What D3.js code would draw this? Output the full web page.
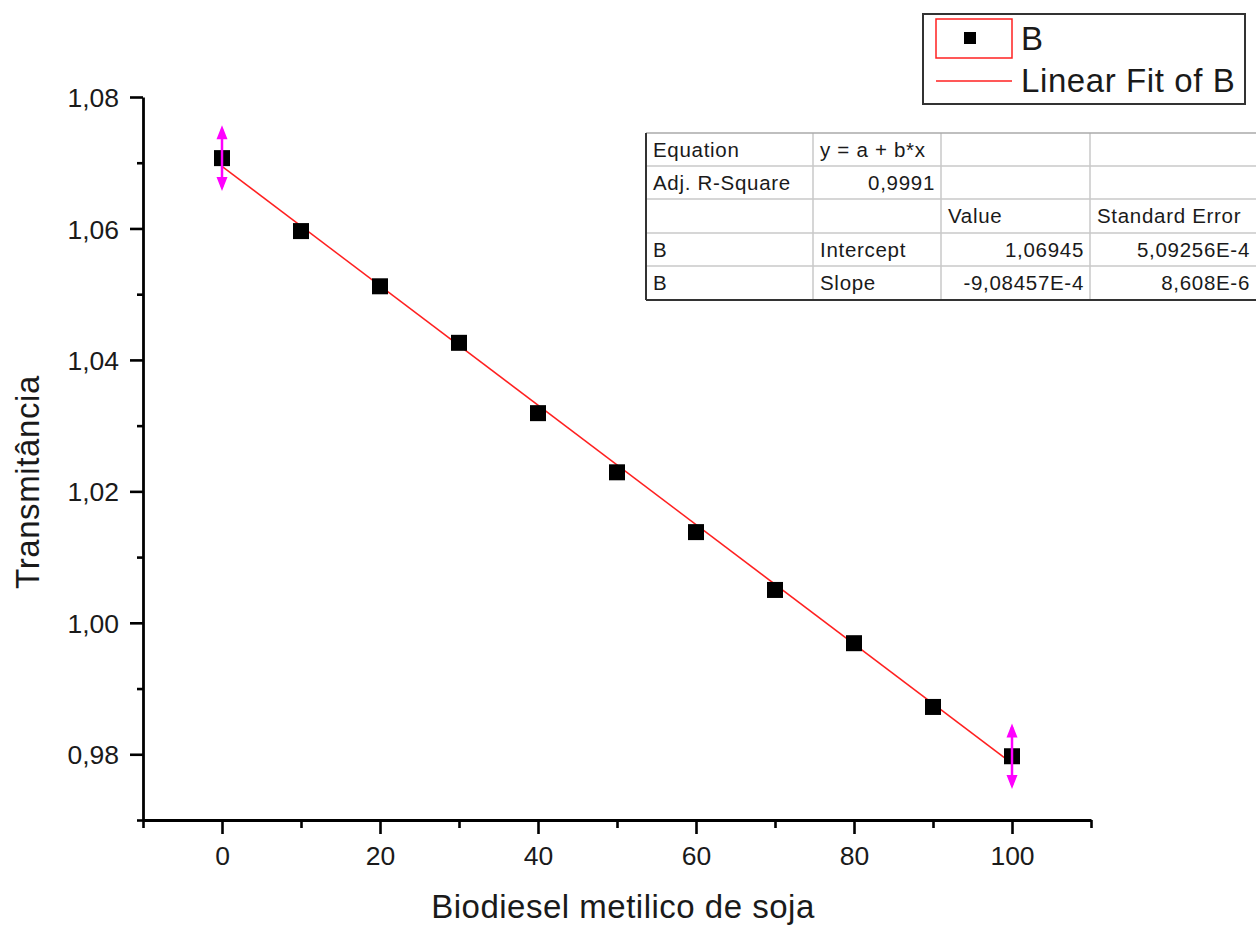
<!DOCTYPE html>
<html>
<head>
<meta charset="utf-8">
<script src="https://cdn.jsdelivr.net/npm/d3@7"></script>
<style>
  body { margin: 0; background: #fff; }
  text { font-family: "Liberation Sans", Arial, sans-serif; }
</style>
</head>
<body>
<div id="chart"></div>
<script>
// data
var xValues = [0, 10, 20, 30, 40, 50, 60, 70, 80, 90, 100];
var yValues = [1.0707, 1.0596, 1.0512, 1.0426, 1.0319, 1.0229, 1.0138, 1.0050, 0.9969, 0.9872, 0.9797];
var yErrors = [0.005, 0, 0, 0, 0, 0, 0, 0, 0, 0, 0.005];

var xMajor = [0, 20, 40, 60, 80, 100];
var xMinor = [-10, 10, 30, 50, 70, 90, 110];
var yMajor = [0.98, 1.00, 1.02, 1.04, 1.06, 1.08];
var yMinor = [0.97, 0.99, 1.01, 1.03, 1.05, 1.07];

var fitIntercept = 1.06945;
var fitSlope = -9.08457e-4;

var tableRows = [
  ["Equation", "y = a + b*x", "", ""],
  ["Adj. R-Square", "0,9991", "", ""],
  ["", "", "Value", "Standard Error"],
  ["B", "Intercept", "1,06945", "5,09256E-4"],
  ["B", "Slope", "-9,08457E-4", "8,608E-6"]
];
var legendLabels = ["B", "Linear Fit of B"];

var W = 1256, H = 927;
var svg = d3.select("#chart").append("svg")
  .attr("width", W).attr("height", H);

var x = d3.scaleLinear().domain([-10, 110]).range([143, 1091]);
var y = d3.scaleLinear().domain([0.97, 1.08]).range([820, 97]);

var ptBR = d3.formatLocale({ decimal: ",", thousands: ".", grouping: [3], currency: ["", ""] });
var fmt2 = ptBR.format(".2f");

// minor ticks
svg.append("g").attr("transform", "translate(0,820)")
  .call(d3.axisBottom(x).tickValues(xMinor).tickSize(8).tickSizeOuter(0).tickFormat(""))
  .call(g => g.select(".domain").remove());
svg.append("g").attr("transform", "translate(143,0)")
  .call(d3.axisLeft(y).tickValues(yMinor).tickSize(6).tickSizeOuter(0).tickFormat(""))
  .call(g => g.select(".domain").remove());

// major axes
var xAxis = svg.append("g").attr("transform", "translate(0,820)")
  .call(d3.axisBottom(x).tickValues(xMajor).tickSize(14).tickSizeOuter(0).tickPadding(12));
var yAxis = svg.append("g").attr("transform", "translate(143,0)")
  .call(d3.axisLeft(y).tickValues(yMajor).tickSize(13).tickSizeOuter(0).tickFormat(fmt2).tickPadding(11));

svg.selectAll(".tick line").attr("stroke", "#000").attr("stroke-width", 2.6);
svg.selectAll(".domain").attr("stroke", "#000").attr("stroke-width", 2.8);
svg.selectAll(".tick text").attr("fill", "#1a1a1a")
  .style("font-family", "'Liberation Sans', Arial, sans-serif").style("font-size", "26.5px");
yAxis.selectAll(".tick text").attr("dy", "0.36em");

// axis titles
svg.append("text").attr("x", 623).attr("y", 918).attr("text-anchor", "middle")
  .style("font-size", "33px").style("letter-spacing", "0.5px").attr("fill", "#1a1a1a")
  .text("Biodiesel metilico de soja");
svg.append("text").attr("transform", "translate(39,482) rotate(-90)").attr("text-anchor", "middle")
  .style("font-size", "33px").style("letter-spacing", "0.6px").attr("fill", "#1a1a1a")
  .text("Transmitância");

// fit line
svg.append("line")
  .attr("x1", x(0)).attr("y1", y(fitIntercept))
  .attr("x2", x(100)).attr("y2", y(fitIntercept + fitSlope * 100))
  .attr("stroke", "#ff2020").attr("stroke-width", 1.5);

// points
var pts = xValues.map(function (d, i) { return { x: d, y: yValues[i], e: yErrors[i] }; });
svg.selectAll("rect.pt").data(pts).enter().append("rect")
  .attr("class", "pt")
  .attr("x", d => x(d.x) - 8).attr("y", d => y(d.y) - 8)
  .attr("width", 16).attr("height", 16).attr("fill", "#000");

// error bars (magenta arrows)
var errPts = pts.filter(d => d.e > 0);
var eb = svg.selectAll("g.err").data(errPts).enter().append("g").attr("class", "err");
eb.append("line")
  .attr("x1", d => x(d.x)).attr("x2", d => x(d.x))
  .attr("y1", d => y(d.y + d.e) + 4).attr("y2", d => y(d.y - d.e) - 4)
  .attr("stroke", "#ff00ff").attr("stroke-width", 2.5);
eb.append("path")
  .attr("d", function (d) {
    var cx = x(d.x), t = y(d.y + d.e), b = y(d.y - d.e);
    return "M" + cx + "," + t + "L" + (cx + 5.5) + "," + (t + 14) + "L" + (cx - 5.5) + "," + (t + 14) + "Z" +
      "M" + cx + "," + b + "L" + (cx + 5.5) + "," + (b - 14) + "L" + (cx - 5.5) + "," + (b - 14) + "Z";
  })
  .attr("fill", "#ff00ff");

// legend
var lg = svg.append("g");
lg.append("rect").attr("x", 923).attr("y", 14).attr("width", 322).attr("height", 90)
  .attr("fill", "#fff").attr("stroke", "#333").attr("stroke-width", 2);
lg.append("rect").attr("x", 936).attr("y", 19).attr("width", 76).attr("height", 39)
  .attr("fill", "none").attr("stroke", "#ff2020").attr("stroke-width", 1.5);
lg.append("rect").attr("x", 964).attr("y", 32).attr("width", 12).attr("height", 12).attr("fill", "#000");
lg.append("line").attr("x1", 936).attr("x2", 1012).attr("y1", 81).attr("y2", 81)
  .attr("stroke", "#ff2020").attr("stroke-width", 1.5);
lg.selectAll("text").data(legendLabels).enter().append("text")
  .attr("x", 1021).attr("y", (d, i) => 50 + i * 42)
  .style("font-size", "33px").style("letter-spacing", "0.6px").attr("fill", "#1a1a1a").text(d => d);

// parameter table
var colX = [646, 813, 941, 1090, 1256];
var rowY = [133, 166, 199, 233, 266, 300];
var align = [
  ["l", "l", "l", "l"],
  ["l", "r", "l", "l"],
  ["l", "l", "l", "l"],
  ["l", "l", "r", "r"],
  ["l", "l", "r", "r"]
];
var tb = svg.append("g");
tb.append("rect").attr("x", colX[0]).attr("y", rowY[0])
  .attr("width", colX[4] - colX[0]).attr("height", rowY[5] - rowY[0]).attr("fill", "#fff");
rowY.slice(1, 5).forEach(function (ry) {
  tb.append("line").attr("x1", colX[0]).attr("x2", colX[4]).attr("y1", ry).attr("y2", ry)
    .attr("stroke", "#c8c8c8").attr("stroke-width", 1.5);
});
colX.slice(1, 4).forEach(function (cx) {
  tb.append("line").attr("x1", cx).attr("x2", cx).attr("y1", rowY[0]).attr("y2", rowY[5])
    .attr("stroke", "#c8c8c8").attr("stroke-width", 1.5);
});
tb.append("line").attr("x1", colX[0]).attr("x2", colX[4]).attr("y1", rowY[0]).attr("y2", rowY[0])
  .attr("stroke", "#aaa").attr("stroke-width", 1.5);
tb.append("line").attr("x1", colX[0]).attr("x2", colX[4]).attr("y1", rowY[5]).attr("y2", rowY[5])
  .attr("stroke", "#333").attr("stroke-width", 2);
tb.append("line").attr("x1", colX[0]).attr("x2", colX[0]).attr("y1", rowY[0]).attr("y2", rowY[5])
  .attr("stroke", "#333").attr("stroke-width", 2);
tableRows.forEach(function (row, r) {
  row.forEach(function (cell, c) {
    if (!cell) return;
    var right = align[r][c] === "r";
    tb.append("text")
      .attr("x", right ? colX[c + 1] - 6 : colX[c] + 7)
      .attr("y", rowY[r] + 24)
      .attr("text-anchor", right ? "end" : "start")
      .style("font-size", "20.5px").style("letter-spacing", "0.7px").attr("fill", "#1a1a1a")
      .text(cell);
  });
});
</script>
</body>
</html>
